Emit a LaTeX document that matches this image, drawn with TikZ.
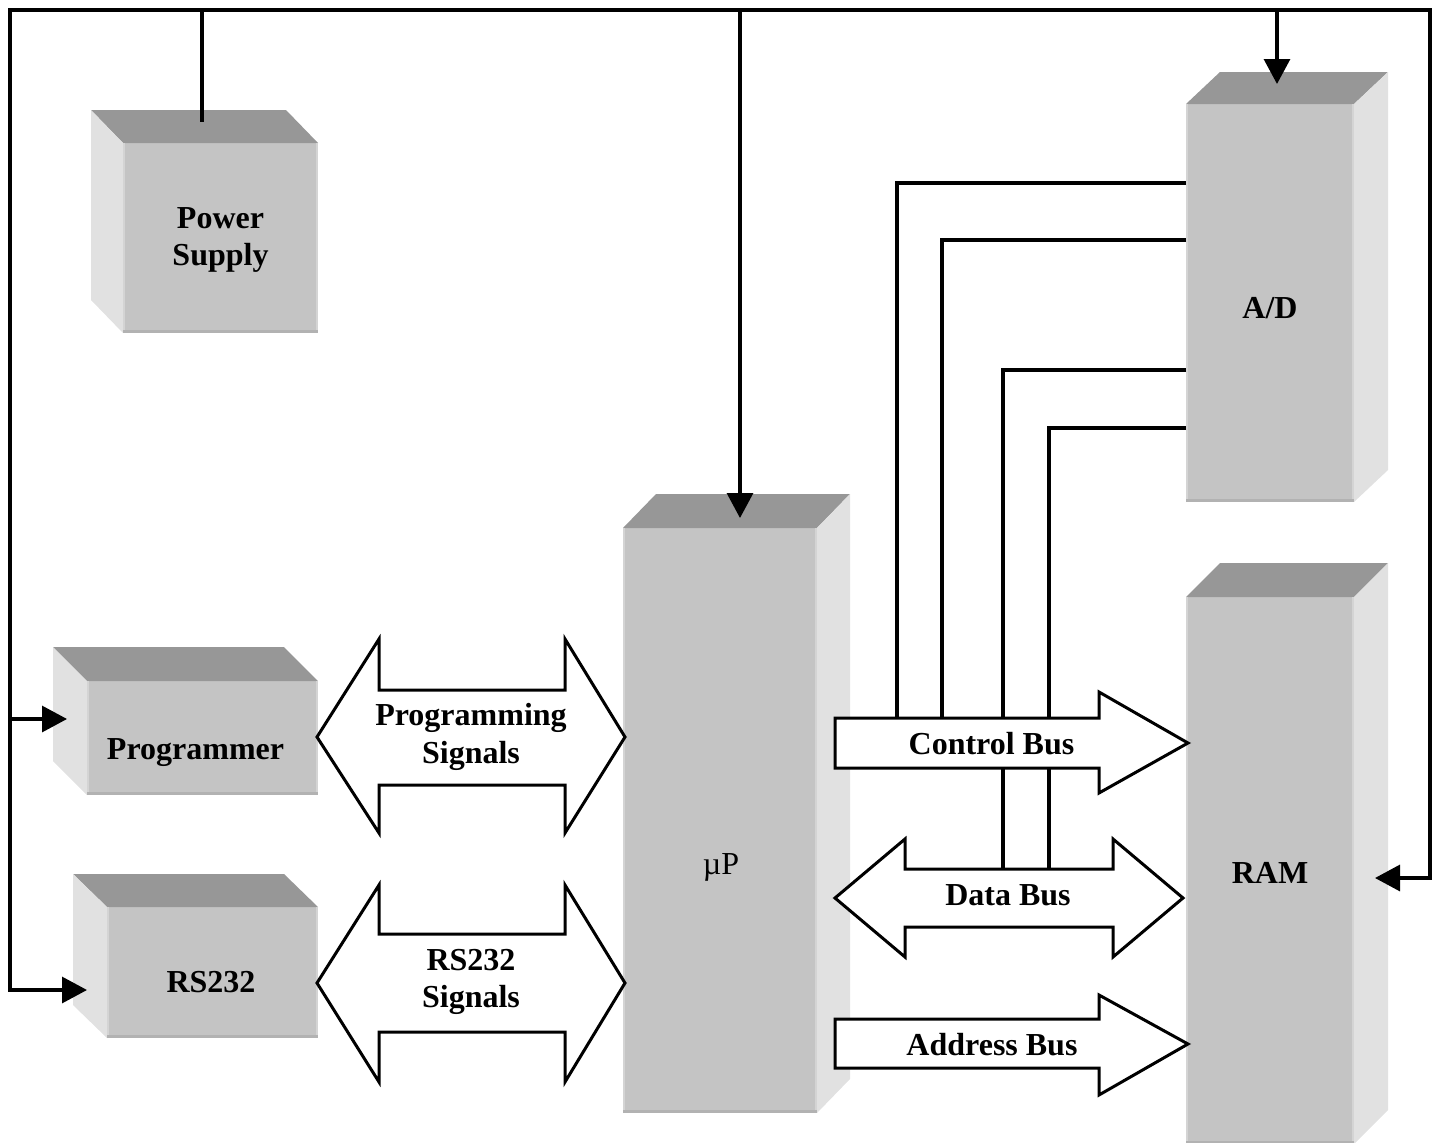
\documentclass[tikz,border=0pt]{standalone}
\usepackage{fontspec}
\setmainfont{Liberation Serif}
\usetikzlibrary{arrows.meta,calc}

\definecolor{frontgray}{HTML}{C4C4C4}
\definecolor{topgray}{HTML}{979797}
\definecolor{sidegray}{HTML}{E1E1E1}
\definecolor{edgelight}{HTML}{D4D4D4}
\definecolor{edgedark}{HTML}{B2B2B2}

% block with its depth drawn towards the upper left
\newcommand\cubeleft[3]{%
  \fill[topgray] (#1.north west) -- ++(-#2,-#3) -- ($(#1.north east)+(-#2,-#3)$) -- (#1.north east) -- cycle;
  \fill[sidegray] (#1.north west) -- ++(-#2,-#3) -- ($(#1.south west)+(-#2,-#3)$) -- (#1.south west) -- cycle;
  \draw[edgelight,line width=2pt] ([xshift=1pt]#1.south west) -- ([xshift=1pt]#1.north west);
  \draw[edgelight,line width=2pt] ([xshift=-1pt]#1.south east) -- ([xshift=-1pt]#1.north east);
  \draw[edgedark,line width=3pt] ([yshift=1.5pt]#1.south west) -- ([yshift=1.5pt]#1.south east);}
% block with its depth drawn towards the upper right
\newcommand\cuberight[3]{%
  \fill[topgray] (#1.north west) -- ++(#2,-#3) -- ($(#1.north east)+(#2,-#3)$) -- (#1.north east) -- cycle;
  \fill[sidegray] (#1.north east) -- ++(#2,-#3) -- ($(#1.south east)+(#2,-#3)$) -- (#1.south east) -- cycle;
  \draw[edgelight,line width=2pt] ([xshift=1pt]#1.south west) -- ([xshift=1pt]#1.north west);
  \draw[edgelight,line width=2pt] ([xshift=-1pt]#1.south east) -- ([xshift=-1pt]#1.north east);
  \draw[edgedark,line width=3pt] ([yshift=1.5pt]#1.south west) -- ([yshift=1.5pt]#1.south east);}

\begin{document}
\begin{tikzpicture}[x=1pt,y=-1pt,
  front/.style={rectangle, fill=frontgray, inner sep=0pt, outer sep=0pt},
  lbl/.style={font=\bfseries\fontsize{32}{37.5}\selectfont, inner sep=0pt, align=center},
  lblone/.style={lbl, text height=21pt, text depth=7pt},
  wire/.style={line width=3.2pt},
  tipend/.style={-{Triangle[length=25pt,width=26pt]}},
  tipboth/.style={{Triangle[length=25pt,width=26pt]}-{Triangle[length=25pt,width=26pt]}},
  bus/.style={draw=black, fill=white, line width=3pt, miter limit=10}]

\useasboundingbox (0,0) rectangle (1436,1143);

% front faces of the blocks
\node[front, minimum width=195pt, minimum height=190pt] (ps)   at (220.5,238) {};
\node[front, minimum width=231pt, minimum height=114pt] (prog) at (202.5,738) {};
\node[front, minimum width=211pt, minimum height=131pt] (rs)   at (212.5,972.5) {};
\node[front, minimum width=194pt, minimum height=585pt] (up)   at (720,820.5) {};
\node[front, minimum width=168pt, minimum height=398pt] (ad)   at (1270,303) {};
\node[front, minimum width=168pt, minimum height=547pt] (ram)  at (1270,870.5) {};

\cubeleft{ps}{32}{33}
\cubeleft{prog}{34}{34}
\cubeleft{rs}{34}{33}
\cuberight{up}{33}{34}
\cuberight{ad}{34}{32}
\cuberight{ram}{34}{34}

% block captions
\node[lbl] (pslbl) at (220.5,240) {Power\\Supply};
\node[lblone] (proglbl) at (195.5,752) {Programmer};
\node[lblone] (rslbl) at (211,985) {RS232};
\node[lblone, font=\fontsize{32}{37.5}\selectfont] (uplbl) at (721,867) {µP};
\node[lblone] (adlbl) at (1270,311) {A/D};
\node[lblone] (ramlbl) at (1270,876) {RAM};

% wiring helpers
\coordinate (top) at (0,10);
\coordinate (lft) at (10,0);
\coordinate (rgt) at (1430,0);
\coordinate (pstap) at (202,122);
\coordinate (progin) at (67,719);
\coordinate (rsin) at (87,990);
\coordinate (upin) at (740,518);
\coordinate (adin) at (1277,84);
\coordinate (ramin) at (1375,878);
\coordinate (cbtop) at (0,718);
\coordinate (dbtop) at (0,869);

% supply rail
\draw[wire, tipboth] (rsin) -- (lft |- rsin) -- (lft |- top) -- (rgt |- top) -- (rgt |- ramin) -- (ramin);
\draw[wire, tipend] (lft |- progin) -- (progin);
\draw[wire] (pstap |- top) -- (pstap);
\draw[wire, tipend] (upin |- top) -- (upin);
\draw[wire, tipend] (adin |- top) -- (adin);

% control lines from the converter down to the buses
\draw[wire] (ad.west |- 0,183) -- (897,183) -- (897,0 |- cbtop);
\draw[wire] (ad.west |- 0,240) -- (942,240) -- (942,0 |- cbtop);
\draw[wire] (ad.west |- 0,370) -- (1003,370) -- (1003,0 |- dbtop);
\draw[wire] (ad.west |- 0,428) -- (1049,428) -- (1049,0 |- dbtop);

% bus arrows
\draw[bus] (317,737) -- (379,639) -- (379,690) -- (565,690) -- (565,639) -- (625,737)
  -- (565,833) -- (565,785) -- (379,785) -- (379,833) -- cycle;
\draw[bus] (317,983) -- (379,885) -- (379,934) -- (565,934) -- (565,885) -- (625,983)
  -- (565,1082) -- (565,1032) -- (379,1032) -- (379,1082) -- cycle;
\draw[bus] (835,718) -- (1099,718) -- (1099,692) -- (1188,743) -- (1099,793) -- (1099,768)
  -- (835,768) -- cycle;
\draw[bus] (835,898) -- (905,839) -- (905,869) -- (1113,869) -- (1113,839) -- (1183,898)
  -- (1113,957) -- (1113,927) -- (905,927) -- (905,957) -- cycle;
\draw[bus] (835,1019) -- (1099,1019) -- (1099,995) -- (1188,1044) -- (1099,1095) -- (1099,1068)
  -- (835,1068) -- cycle;

% bus captions
\node[lbl] (pglbl) at (471,737) {Programming\\Signals};
\node[lbl] (rsslbl) at (471,982) {RS232\\Signals};
\node[lblone] (cblbl) at (991.5,747) {Control Bus};
\node[lblone] (dblbl) at (1008,898) {Data Bus};
\node[lblone] (ablbl) at (992,1048) {Address Bus};

\end{tikzpicture}
\end{document}
